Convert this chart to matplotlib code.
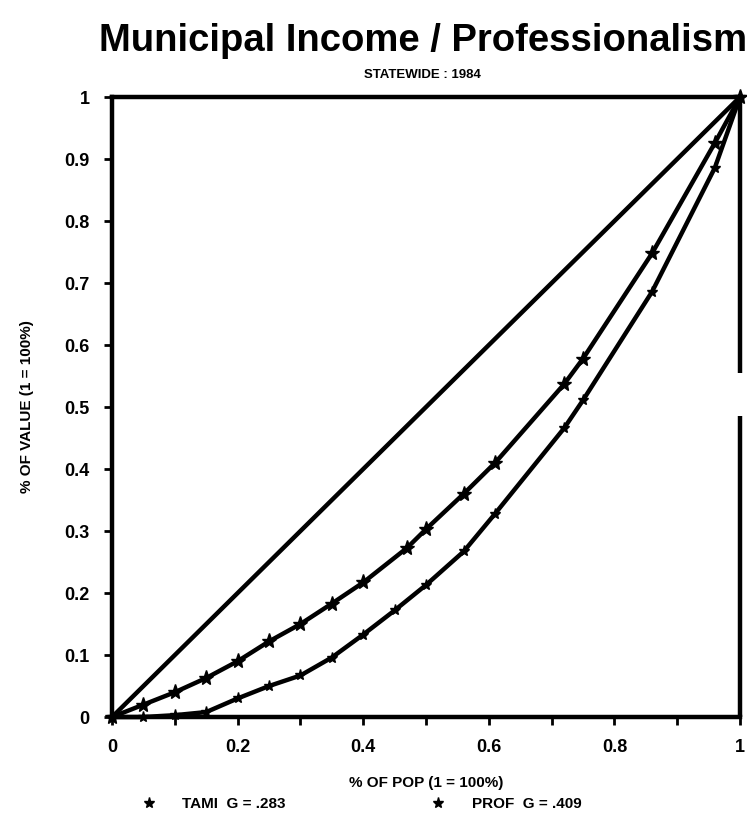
import numpy as np
import matplotlib.pyplot as plt
from matplotlib.lines import Line2D

# Lorenz-curve points
pop_tami = [0, 0.05, 0.10, 0.15, 0.20, 0.25, 0.30, 0.35, 0.40, 0.47, 0.50,
            0.56, 0.61, 0.72, 0.75, 0.86, 0.96, 1.0]
val_tami = [0, 0.02, 0.04, 0.063, 0.09, 0.122, 0.15, 0.183, 0.217, 0.273,
            0.303, 0.36, 0.41, 0.537, 0.578, 0.748, 0.926, 1.0]

pop_prof = [0, 0.05, 0.10, 0.15, 0.20, 0.25, 0.30, 0.35, 0.40, 0.45, 0.50,
            0.56, 0.61, 0.72, 0.75, 0.86, 0.96, 1.0]
val_prof = [0, 0.0, 0.003, 0.008, 0.03, 0.05, 0.067, 0.096, 0.133, 0.172,
            0.213, 0.267, 0.328, 0.466, 0.511, 0.686, 0.886, 1.0]

equality = [0, 1]

gini_tami = ".283"
gini_prof = ".409"

xtick_vals = np.round(np.arange(0, 1.01, 0.1), 1)
xtick_labels = ["0", "", "0.2", "", "0.4", "", "0.6", "", "0.8", "", "1"]
ytick_vals = np.round(np.arange(0, 1.01, 0.1), 1)
ytick_labels = ["0", "0.1", "0.2", "0.3", "0.4", "0.5", "0.6", "0.7", "0.8", "0.9", "1"]

plt.rcParams['font.family'] = ['Liberation Sans', 'DejaVu Sans']

fig = plt.figure(figsize=(7.47, 8.19), dpi=100)
ax = fig.add_axes([0.150, 0.1245, 0.8406, 0.757])

# line of equality
ax.plot(equality, equality, color='black', lw=3.2, clip_on=False)
# TAMI curve
ax.plot(pop_tami, val_tami, color='black', lw=3.2, marker='*', ms=11,
        clip_on=False)
# PROF curve
ax.plot(pop_prof, val_prof, color='black', lw=3.2, marker='*', ms=8,
        clip_on=False)

ax.set_xlim(0, 1)
ax.set_ylim(0, 1)

for side in ['left', 'bottom', 'top']:
    ax.spines[side].set_linewidth(3.2)
ax.spines['right'].set_visible(False)
# right frame edge has a break in the scan
ax.plot([1, 1], [0, 0.485], color='black', lw=3.2, clip_on=False, solid_capstyle='butt')
ax.plot([1, 1], [0.555, 1], color='black', lw=3.2, clip_on=False, solid_capstyle='butt')

ax.set_xticks(xtick_vals)
ax.set_xticklabels(xtick_labels)
ax.set_yticks(ytick_vals)
ax.set_yticklabels(ytick_labels)
ax.tick_params(direction='out', length=6, width=2, labelsize=13, pad=10)
for lbl in ax.get_xticklabels() + ax.get_yticklabels():
    lbl.set_fontweight('bold')

ax.set_xlabel("% OF POP (1 = 100%)", fontsize=11, fontweight='bold', labelpad=14)
ax.set_ylabel("% OF VALUE (1 = 100%)", fontsize=11, fontweight='bold', labelpad=22)

fig.text(0.567, 0.950, "Municipal Income / Professionalism", ha='center', va='center',
         fontsize=27.5, fontweight='bold')
fig.text(0.565, 0.908, "STATEWIDE : 1984", ha='center', va='center',
         fontsize=9.5, fontweight='bold')

handles = [Line2D([], [], color='black', marker='*', ms=8, lw=0),
           Line2D([], [], color='black', marker='*', ms=8, lw=0)]
fig.legend(handles, ["TAMI  G = " + gini_tami, "PROF  G = " + gini_prof],
           loc='center left', bbox_to_anchor=(0.16, 0.018), ncol=2, frameon=False,
           columnspacing=9, handletextpad=1.2, prop={'weight': 'bold', 'size': 11})

fig.savefig("out.png", dpi=100)
